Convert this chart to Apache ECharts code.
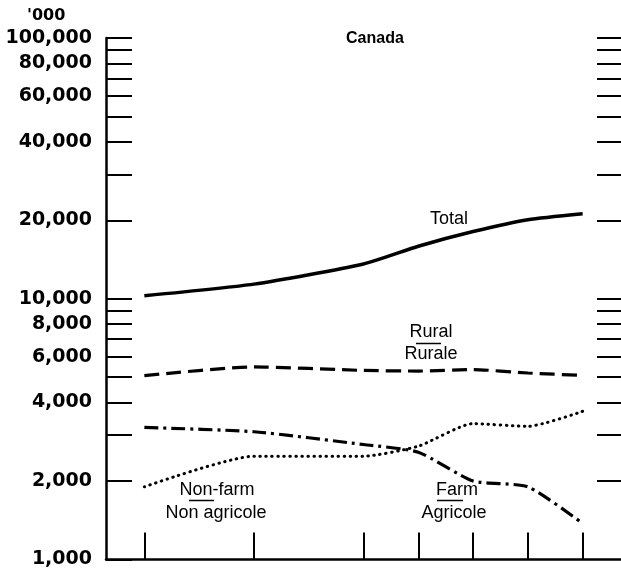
<!DOCTYPE html>
<html>
<head>
<meta charset="utf-8">
<script src="https://cdn.jsdelivr.net/npm/echarts@6/dist/echarts.min.js"></script>
<style>
  html, body { margin: 0; padding: 0; background: #fff; }
  #chart { width: 621px; height: 569px; }
</style>
</head>
<body>
<div id="chart"></div>
<script>
// census years
const years = [1931, 1941, 1951, 1956, 1961, 1966, 1971];

// population, thousands
const total   = [10270, 11380, 13600, 15900, 18100, 20100, 21200];
const rural   = [5070, 5480, 5310, 5280, 5350, 5190, 5080];
const farm    = [3210, 3090, 2760, 2580, 2000, 1900, 1375];
const nonFarm = [1900, 2490, 2490, 2720, 3320, 3240, 3700];

// y axis ticks and labels
const yTicks = [1000, 2000, 3000, 4000, 5000, 6000, 7000, 8000, 9000,
  10000, 20000, 30000, 40000, 50000, 60000, 70000, 80000, 90000, 100000];
const yLabels = [1000, 2000, 4000, 6000, 8000, 10000, 20000, 40000, 60000, 80000, 100000];

const pairs = vals => years.map((y, i) => [y, vals[i]]);

const chart = echarts.init(document.getElementById('chart'));

const tickStyle = { color: '#000', width: 2 };
const labelFont = {
  color: '#000', fontFamily: 'DejaVu Sans', fontWeight: 'bold', fontSize: 19
};
const noteFont = { fill: '#000', fontFamily: 'Liberation Sans', fontSize: 18 };

function line(vals, type, width, cap) {
  return {
    type: 'line',
    data: pairs(vals),
    symbol: 'none',
    smooth: 0.2,
    lineStyle: { color: '#000', width: width, type: type, cap: cap || 'butt' }
  };
}

function note(text, x, y) {
  return { type: 'text', x: x, y: y,
    style: Object.assign({ text: text, align: 'center', verticalAlign: 'middle' }, noteFont) };
}

function bar(x1, x2, y) {
  return { type: 'line', shape: { x1: x1, y1: y, x2: x2, y2: y }, style: { stroke: '#000', lineWidth: 1.5 } };
}

chart.setOption({
  animation: false,
  grid: { left: 106, right: 0, top: 38, bottom: 9 },
  xAxis: {
    type: 'value',
    min: 1927.5,
    max: 1974.5,
    axisLine: { lineStyle: { color: '#000', width: 2.5 } },
    axisTick: { inside: true, length: 27, lineStyle: tickStyle, customValues: years },
    axisLabel: { show: false },
    splitLine: { show: false }
  },
  yAxis: [{
    type: 'log',
    logBase: 10,
    min: 1000,
    max: 100000,
    position: 'left',
    axisLine: { show: true, lineStyle: { color: '#000', width: 2.5 } },
    axisTick: { inside: true, length: 26, lineStyle: tickStyle, customValues: yTicks },
    axisLabel: Object.assign({
      margin: 14,
      customValues: yLabels,
      formatter: v => Number(v).toLocaleString('en-US')
    }, labelFont),
    splitLine: { show: false }
  }, {
    type: 'log',
    logBase: 10,
    min: 1000,
    max: 100000,
    position: 'right',
    axisLine: { show: false },
    axisTick: { inside: true, length: 24, lineStyle: tickStyle, customValues: yTicks.slice(1) },
    axisLabel: { show: false },
    splitLine: { show: false }
  }],
  series: [
    line(total, 'solid', 3.5),
    line(rural, [15, 7], 3.2),
    line(farm, [14, 5, 3, 5], 3.2),
    line(nonFarm, [0.5, 5.5], 3, 'round')
  ],
  graphic: [
    { type: 'text', left: 27, top: 8,
      style: { text: "'000", fill: '#000', fontFamily: 'DejaVu Sans', fontWeight: 'bold', fontSize: 16 } },
    { type: 'text', left: 346, top: 31,
      style: { text: 'Canada', fill: '#000', fontFamily: 'Liberation Sans', fontWeight: 'bold', fontSize: 16 } },
    note('Total', 449, 219),
    note('Rural', 431, 332),
    bar(416, 441, 343.5),
    note('Rurale', 431, 354),
    note('Non-farm', 217, 490),
    bar(189, 214, 500.5),
    note('Non agricole', 216, 513),
    note('Farm', 457, 490),
    bar(437, 463, 500.5),
    note('Agricole', 454, 513)
  ]
});
</script>
</body>
</html>
